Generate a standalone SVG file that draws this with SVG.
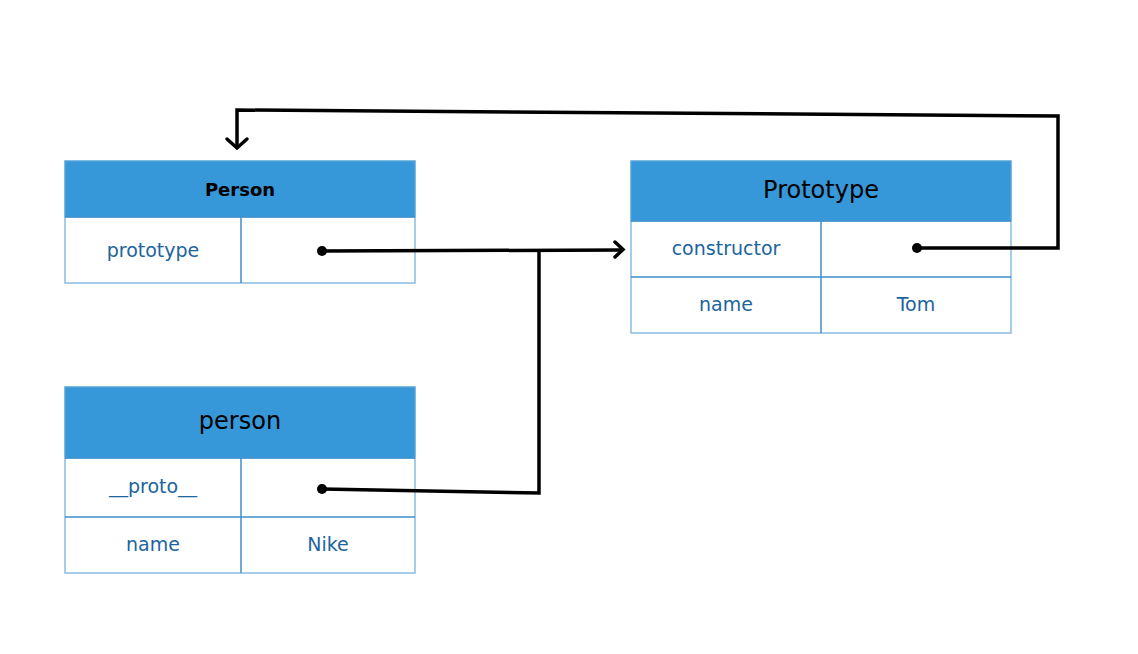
<svg xmlns="http://www.w3.org/2000/svg" width="1138" height="654" viewBox="0 0 1138 654">
<style>
.hdr{fill:#3697d9;stroke:#5aa7dc;stroke-width:1}
.cell{fill:#ffffff;stroke:#88bde0;stroke-width:1.5}
.div{stroke:#3e8fcc;stroke-width:1.5}
.lbl{font-family:"DejaVu Sans",Verdana,sans-serif;font-size:19px;fill:#20649e;text-anchor:middle;dominant-baseline:central}
.ttl{font-family:"DejaVu Sans",Verdana,sans-serif;font-size:24px;fill:#000;text-anchor:middle;dominant-baseline:central}
.ttlb{font-family:"DejaVu Sans",Verdana,sans-serif;font-size:18px;font-weight:bold;fill:#000;text-anchor:middle;dominant-baseline:central}
.wire{fill:none;stroke:#000;stroke-width:3.5;stroke-linejoin:miter;stroke-linecap:round}
</style>
<rect width="1138" height="654" fill="#fff"/>
<g id="Person">
<rect class="cell" x="65" y="161" width="350" height="122"/>
<rect class="hdr" x="65" y="161" width="350" height="56"/>
<line class="div" x1="65" y1="217" x2="415" y2="217"/>
<line class="div" x1="241" y1="217" x2="241" y2="283"/>
<text class="ttlb" x="240" y="189">Person</text>
<text class="lbl" x="153" y="250">prototype</text>
</g>
<g id="Prototype">
<rect class="cell" x="631" y="161" width="380" height="172"/>
<rect class="hdr" x="631" y="161" width="380" height="60"/>
<line class="div" x1="631" y1="221" x2="1011" y2="221"/>
<line class="div" x1="631" y1="277" x2="1011" y2="277"/>
<line class="div" x1="821" y1="221" x2="821" y2="333"/>
<text class="ttl" x="821" y="190">Prototype</text>
<text class="lbl" x="726" y="248">constructor</text>
<text class="lbl" x="726" y="304">name</text>
<text class="lbl" x="916" y="304">Tom</text>
</g>
<g id="person">
<rect class="cell" x="65" y="387" width="350" height="186"/>
<rect class="hdr" x="65" y="387" width="350" height="71"/>
<line class="div" x1="65" y1="458" x2="415" y2="458"/>
<line class="div" x1="65" y1="517" x2="415" y2="517"/>
<line class="div" x1="241" y1="458" x2="241" y2="573"/>
<text class="ttl" x="240" y="421">person</text>
<text class="lbl" x="153" y="486">__proto__</text>
<text class="lbl" x="153" y="544">name</text>
<text class="lbl" x="328" y="544">Nike</text>
</g>
<g id="connectors">
<path class="wire" d="M322 251 L622 250"/>
<path class="wire" d="M615 242 L623 249.5 L615 257"/>
<circle cx="322" cy="251" r="5" fill="#000"/>
<path class="wire" d="M322 489 L539 493 L539 251"/>
<circle cx="322" cy="489" r="5" fill="#000"/>
<path class="wire" d="M917 248 L1058 248 L1058 116 L237 110 L237 147"/>
<path class="wire" d="M227 139 L237 148 L247 139"/>
<circle cx="917" cy="248" r="5" fill="#000"/>
</g>
</svg>
